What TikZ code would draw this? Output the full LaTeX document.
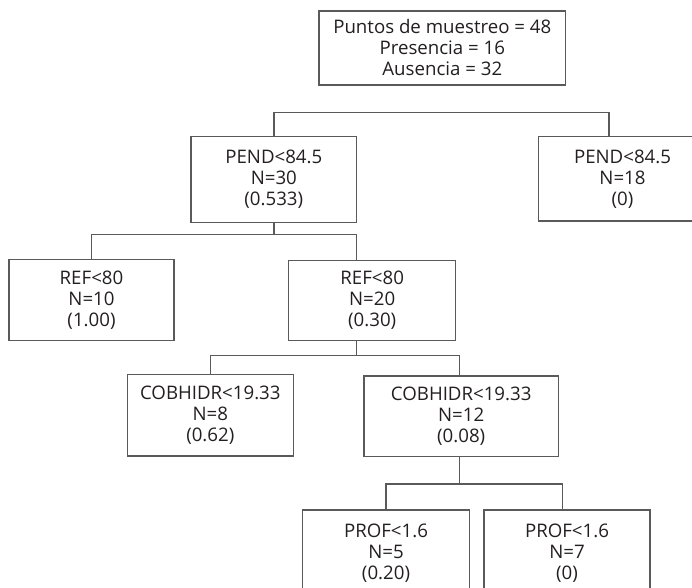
\documentclass[tikz,border=0pt]{standalone}
\usepackage{fontspec}
\setmainfont{Open Sans}
\definecolor{linegray}{HTML}{5A5A5A}
\definecolor{textgray}{HTML}{231F20}
\tikzset{every picture/.style={line width=1.1pt}}
\tikzset{
  box/.style 2 args={draw=linegray, text=textgray, align=center, inner sep=0pt,
    minimum width=#1*0.75pt, minimum height=#2*0.75pt,
    font=\fontsize{14}{15.75}\selectfont},
  link/.style={draw=linegray}
}

\begin{document}
\begin{tikzpicture}[x=0.75pt,y=0.75pt,yscale=-1,xscale=1]
\useasboundingbox (0,0) rectangle (692,588);
\clip (0,0) rectangle (692,588);

% Root
\node [box={246.7}{74}] (root) at (442.3,48) {Puntos de muestreo = 48\\Presencia = 16\\Ausencia = 32};

% Level 1
\node [box={165.7}{86}] (pendA) at (273.8,179.7) {PEND<84.5\\N=30\\(0.533)};
\node [box={168.4}{84.3}] (pendB) at (622.5,178.8) {PEND<84.5\\N=18\\(0)};

% Level 2
\node [box={165}{81.4}] (refA) at (91.5,300) {REF<80\\N=10\\(1.00)};
\node [box={167}{80}] (refB) at (372.2,300.7) {REF<80\\N=20\\(0.30)};

% Level 3
\node [box={166}{81.7}] (cobA) at (210.3,415.2) {COBHIDR<19.33\\N=8\\(0.62)};
\node [box={194.3}{80.7}] (cobB) at (461.2,416.3) {COBHIDR<19.33\\N=12\\(0.08)};

% Level 4
\node [box={166.6}{86}] (profA) at (386,553) {PROF<1.6\\N=5\\(0.20)};
\node [box={166}{86}] (profB) at (567,553) {PROF<1.6\\N=7\\(0)};

% Branches
\coordinate (b1) at ([xshift=-13.5*0.75pt]pendB.north);
\draw [link] (pendA.north) -- ++(0,-23.4) -| (b1);

\coordinate (b2) at ([xshift=-15.5*0.75pt]refB.north);
\draw [link] (pendA.south) -- ++(0,11.3) coordinate (s2);
\draw [link] (refA.north) |- (s2) -| (b2);

\coordinate (b3) at ([xshift=-1.9*0.75pt]cobB.north);
\draw [link] (b2 |- refB.south) -- ++(0,14.3) coordinate (s3);
\draw [link] (cobA.north) |- (s3) -| (b3);

\coordinate (b4) at ([xshift=-4.3*0.75pt]profB.north);
\draw [link] (b3 |- cobB.south) -- ++(0,26.6) coordinate (s4);
\draw [link] (profA.north) |- (s4) -| (b4);

\end{tikzpicture}
\end{document}
